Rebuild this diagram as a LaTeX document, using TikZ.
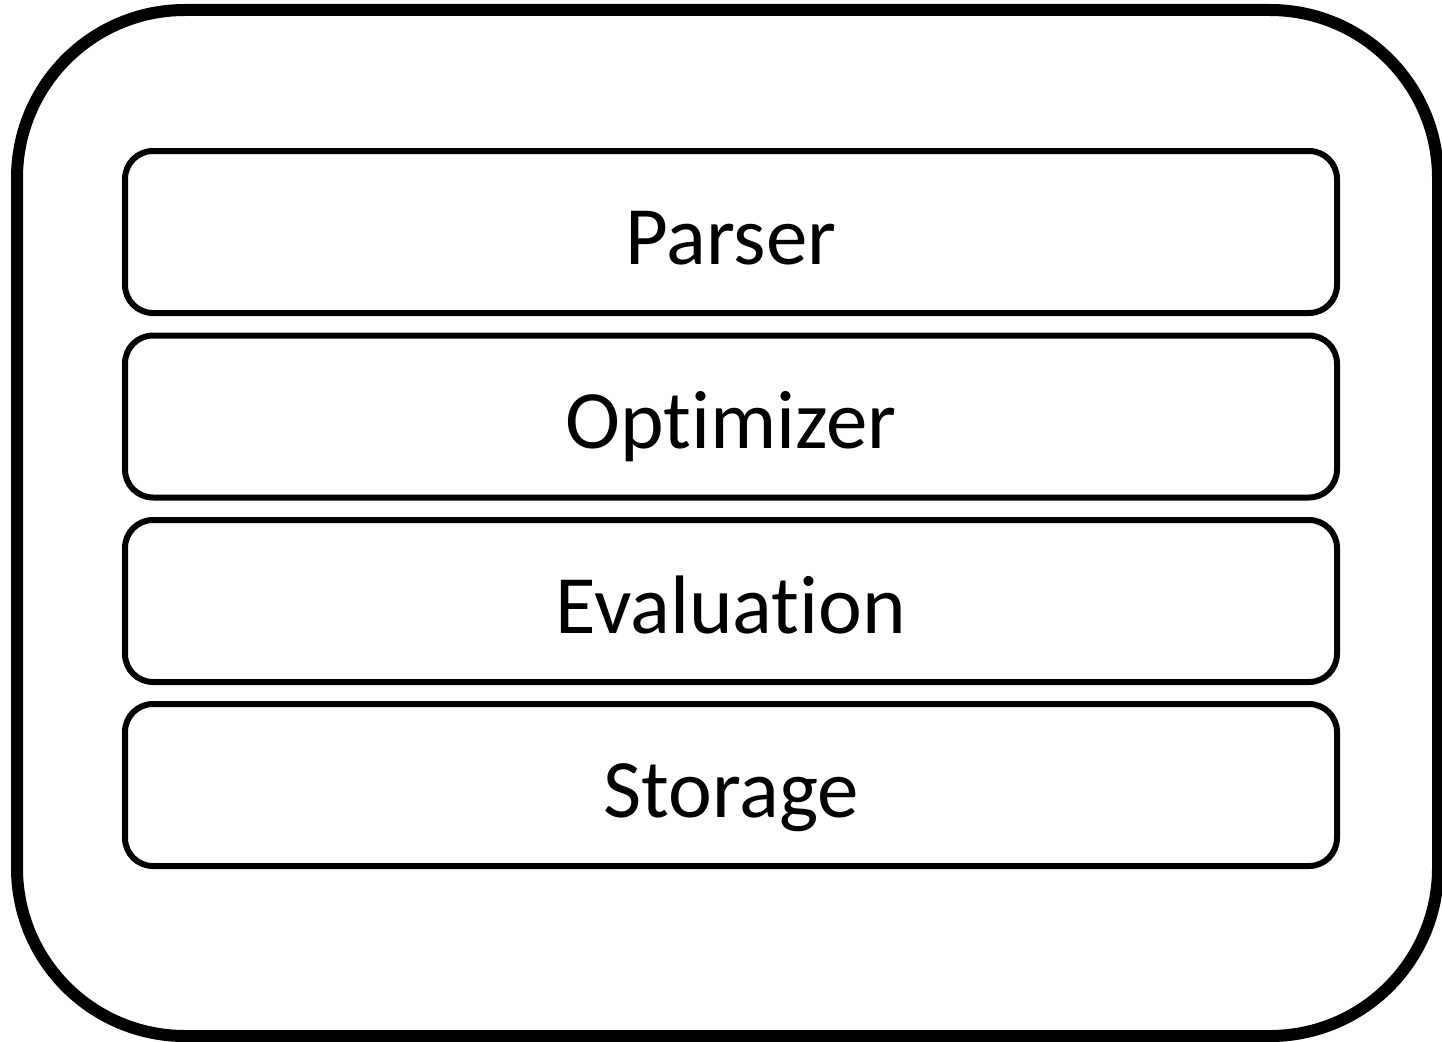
\documentclass[tikz,border=0pt]{standalone}
\usepackage{fontspec}
\setmainfont{Carlito}[RawFeature=-liga]
\begin{document}
\begin{tikzpicture}[x=1pt,y=-1pt,
  outerbox/.style={draw, line width=12pt, rounded corners=168pt, inner sep=0pt},
  layer/.style={draw, line width=6pt, rounded corners=28pt, inner sep=0pt,
    minimum width=1212pt, minimum height=162pt,
    font=\fontsize{83}{99}\selectfont, text height=64pt, text depth=0pt}]
  \useasboundingbox (0,0) rectangle (1442,1041);
  % enclosing frame
  \node[outerbox, minimum width=1421pt, minimum height=1026pt] (system) at (727.5,523) {};
  % stacked layers
  \node[layer] (parser) at (731,232) {Parser};
  \node[layer] (optimizer) at (731,416.5) {Optimizer};
  \node[layer] (evaluation) at (731,601) {Evaluation};
  \node[layer] (storage) at (731,785) {Storage};
\end{tikzpicture}
\end{document}
